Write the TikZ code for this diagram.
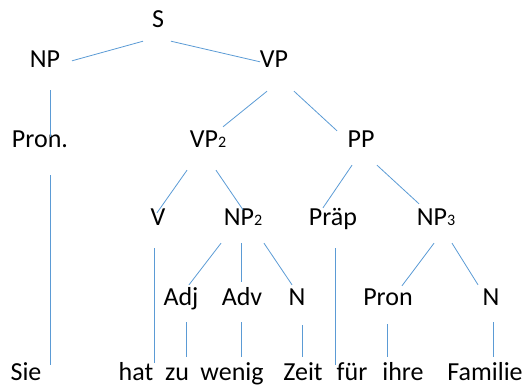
\documentclass[tikz,border=0pt]{standalone}
\usepackage{fontspec}
\setmainfont{Carlito}
\definecolor{treeblue}{RGB}{91,155,213}
\newcommand{\idx}[1]{{\fontsize{16}{16}\selectfont #1}}
\tikzset{
  syn/.style={inner sep=0pt, anchor=base, text height=17pt, text depth=5pt,
    font=\fontsize{26}{30}\selectfont},
  word/.style={syn, text depth=4pt},
  branch/.style={draw=treeblue, line width=0.8pt}
}
\begin{document}
\begin{tikzpicture}[x=1pt,y=-1pt]
      \useasboundingbox (0,0) rectangle (526,386);
      % categories
      \node[syn] (S) at (158,27) {S};
      \node[syn] (NP) at (45,67) {NP};
      \node[syn] (VP) at (274,67) {VP};
      \node[syn] (pronS) at (40,147) {Pron.};
      \node[syn] (VPa) at (208,147) {VP\idx{2}};
      \node[syn] (PP) at (361,147) {PP};
      \node[syn] (V) at (158,225) {V};
      \node[syn] (NPa) at (243,225) {NP\idx{2}};
      \node[syn] (Praep) at (333,225) {Präp};
      \node[syn] (NPb) at (436,225) {NP\idx{3}};
      \node[syn] (Adj) at (181,305) {Adj};
      \node[syn] (Adv) at (242,305) {Adv};
      \node[syn] (Nl) at (297,305) {N};
      \node[syn] (Pron) at (388,305) {Pron};
      \node[syn] (Nr) at (491,305) {N};
      % words
      \foreach \w/\x/\n in {Sie/26/sie, hat/136/hat, zu/177/zu, wenig/232/wenig,
          Zeit/303/zeit, für/352/fuer, ihre/403/ihre, Familie/485/familie} {
        \node[word] (\n) at (\x,380) {\w};
      }
      % branches
      \draw[branch] ([xshift=-15pt,yshift=-9pt]S.south) -- ([xshift=27pt,yshift=-11pt]NP.north);
      \draw[branch] ([xshift=13pt,yshift=-9pt]S.south) -- ([xshift=-14pt,yshift=-12pt]VP.north);
      \draw[branch] ([xshift=5pt,yshift=-18pt]NP.south) -- ([xshift=10pt,yshift=-7pt]pronS.north);
      \draw[branch] ([xshift=-7pt,yshift=-19pt]VP.south) -- ([xshift=15pt,yshift=3pt]VPa.north);
      \draw[branch] ([xshift=20pt,yshift=-19pt]VP.south) -- ([xshift=-24pt,yshift=-1pt]PP.north);
      \draw[branch] ([xshift=10pt,yshift=-23pt]pronS.south) -- ([xshift=24pt,yshift=-2pt]sie.north);
      \draw[branch] ([xshift=-21pt,yshift=-18pt]VPa.south) -- ([xshift=-1pt,yshift=-5pt]V.north);
      \draw[branch] ([xshift=8pt,yshift=-18pt]VPa.south) -- ([yshift=-2pt]NPa.north);
      \draw[branch] ([xshift=-9pt,yshift=-13pt]PP.south) -- ([xshift=-10pt]Praep.north);
      \draw[branch] ([xshift=16pt,yshift=-13pt]PP.south) -- ([xshift=-17pt,yshift=4pt]NPb.north);
      \draw[branch] ([xshift=-4pt,yshift=-18pt]V.south) -- ([xshift=18pt]hat.north);
      \draw[branch] ([xshift=-22pt,yshift=-13pt]NPa.south) -- ([xshift=8pt,yshift=3pt]Adj.north);
      \draw[branch] ([xshift=-2pt,yshift=-13pt]NPa.south) -- ([xshift=-1pt,yshift=6pt]Adv.north);
      \draw[branch] ([xshift=21pt,yshift=-13pt]NPa.south) -- ([xshift=-5pt,yshift=3pt]Nl.north);
      \draw[branch] ([xshift=2pt,yshift=-18pt]Praep.south) -- ([xshift=-17pt,yshift=-2pt]fuer.north);
      \draw[branch] ([xshift=-2pt,yshift=-13pt]NPb.south) -- ([xshift=14pt,yshift=2pt]Pron.north);
      \draw[branch] ([xshift=16pt,yshift=-13pt]NPb.south) -- ([xshift=-13pt,yshift=3pt]Nr.north);
      \draw[branch] ([xshift=5pt,yshift=-12pt]Adj.south) -- ([xshift=9pt,yshift=6pt]zu.north);
      \draw[branch] ([xshift=-1pt,yshift=-12pt]Adv.south) -- ([xshift=9pt,yshift=6pt]wenig.north);
      \draw[branch] ([xshift=5pt,yshift=-15pt]Nl.south) -- ([xshift=-1pt,yshift=6pt]zeit.north);
      \draw[branch] ([xshift=-1pt,yshift=-14pt]Pron.south) -- ([xshift=-16pt,yshift=6pt]ihre.north);
      \draw[branch] ([xshift=2pt,yshift=-12pt]Nr.south) -- ([xshift=8pt,yshift=6pt]familie.north);
\end{tikzpicture}
\end{document}
